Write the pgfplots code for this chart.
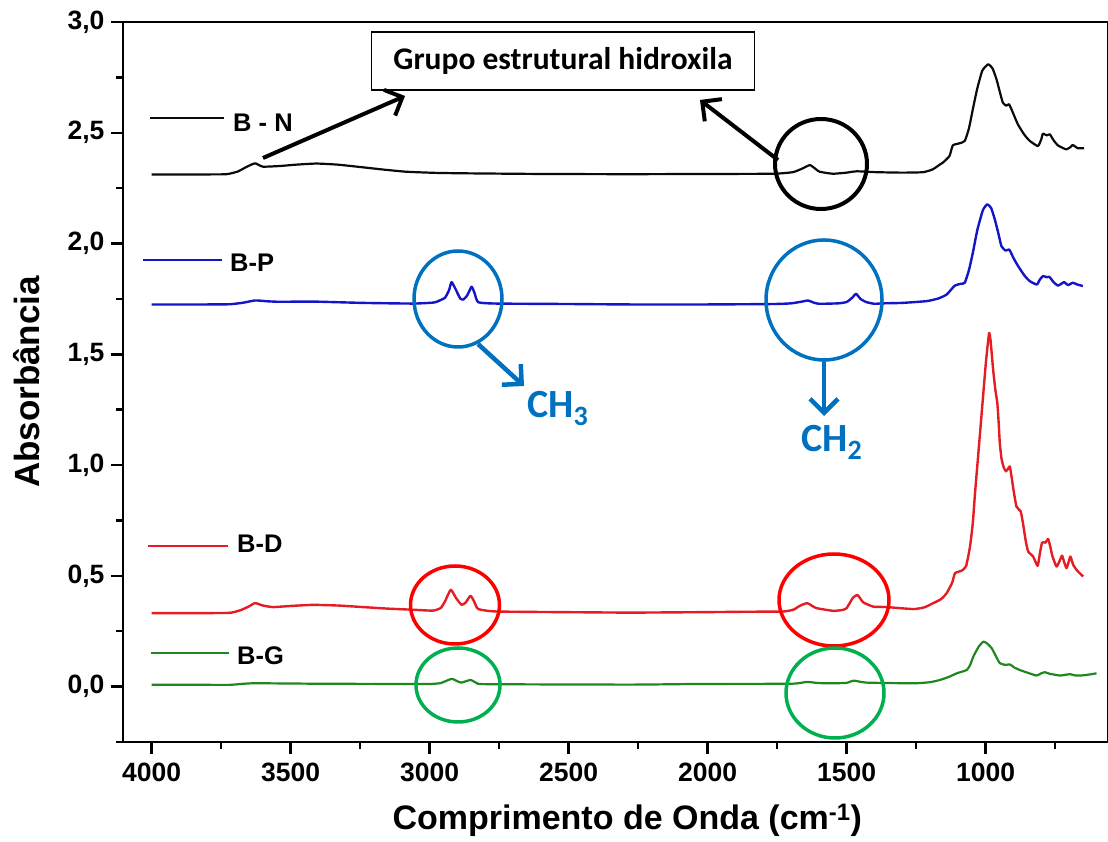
\documentclass[border=0pt]{standalone}
\usepackage{pgfplots}
\pgfplotsset{compat=1.18}
\usepackage{fontspec}
\setmainfont{Liberation Sans}
\newfontfamily\calib{Carlito}
\usetikzlibrary{arrows.meta}

\definecolor{cN}{RGB}{10,10,10}
\definecolor{cP}{RGB}{20,20,200}
\definecolor{cD}{RGB}{228,28,36}
\definecolor{cG}{RGB}{30,135,30}
\definecolor{oblue}{RGB}{0,112,192}
\definecolor{ored}{RGB}{255,0,0}
\definecolor{ogreen}{RGB}{0,176,80}

\pgfplotstableread{
x y
4000 2.312
3800 2.312
3730 2.313
3690 2.325
3660 2.345
3628 2.362
3600 2.347
3538 2.350
3480 2.356
3407 2.361
3330 2.356
3240 2.344
3160 2.333
3083 2.324
2980 2.319
2880 2.317
2600 2.314
2279 2.313
2000 2.314
1765 2.315
1694 2.322
1660 2.338
1632 2.354
1610 2.335
1597 2.324
1550 2.315
1500 2.320
1464 2.326
1392 2.322
1300 2.320
1225 2.322
1190 2.335
1164 2.357
1154 2.365
1130 2.395
1118 2.443
1095 2.452
1075 2.463
1060 2.520
1046 2.606
1030 2.700
1012 2.780
991 2.809
975 2.790
961 2.742
948 2.680
938 2.636
926 2.622
916 2.629
905 2.600
884 2.538
860 2.490
841 2.463
812 2.440
800 2.470
794 2.496
780 2.488
769 2.493
755 2.465
740 2.443
720 2.430
709 2.425
695 2.435
687 2.445
678 2.438
668 2.430
646 2.430
}\tabBN

\pgfplotstableread{
x y
4000 1.725
3800 1.725
3718 1.726
3670 1.733
3628 1.743
3580 1.739
3538 1.737
3420 1.738
3240 1.732
3060 1.729
2990 1.733
2975 1.737
2945 1.755
2930 1.790
2921 1.826
2905 1.790
2890 1.752
2879 1.747
2865 1.765
2849 1.805
2838 1.775
2825 1.735
2759 1.729
2500 1.727
2279 1.725
2000 1.725
1760 1.727
1700 1.730
1660 1.738
1639 1.743
1620 1.734
1600 1.728
1530 1.730
1500 1.736
1480 1.755
1466 1.773
1450 1.750
1430 1.736
1400 1.728
1370 1.730
1300 1.732
1212 1.740
1170 1.752
1140 1.770
1111 1.810
1090 1.818
1075 1.823
1060 1.880
1046 1.958
1030 2.060
1010 2.150
994 2.177
980 2.160
967 2.109
955 2.050
943 1.988
928 1.968
915 1.973
900 1.935
883 1.898
860 1.855
841 1.830
816 1.815
806 1.835
794 1.853
780 1.848
771 1.850
755 1.825
740 1.810
728 1.818
718 1.826
710 1.818
703 1.812
695 1.818
686 1.823
670 1.815
650 1.808
}\tabBP

\pgfplotstableread{
x y
4000 0.332
3800 0.332
3718 0.333
3680 0.345
3650 0.362
3628 0.377
3600 0.366
3563 0.359
3500 0.364
3420 0.369
3330 0.366
3240 0.359
3150 0.352
3060 0.347
2988 0.343
2960 0.355
2945 0.384
2924 0.437
2905 0.400
2885 0.369
2870 0.380
2853 0.410
2840 0.385
2825 0.350
2759 0.339
2500 0.336
2279 0.334
2027 0.336
1850 0.338
1728 0.339
1690 0.348
1668 0.365
1642 0.377
1625 0.365
1608 0.354
1548 0.342
1515 0.346
1500 0.354
1478 0.400
1462 0.414
1452 0.400
1440 0.380
1404 0.361
1356 0.359
1260 0.350
1220 0.358
1188 0.377
1160 0.395
1140 0.422
1120 0.470
1110 0.512
1085 0.524
1070 0.545
1056 0.633
1046 0.740
1038 0.875
1026 1.055
1014 1.237
999 1.463
991 1.560
987 1.597
982 1.560
973 1.431
965 1.340
958 1.281
953 1.190
949 1.100
943 1.030
935 0.990
927 0.972
920 0.982
913 0.994
907 0.950
900 0.890
889 0.813
874 0.791
866 0.740
856 0.660
847 0.610
829 0.587
813 0.545
805 0.600
797 0.650
785 0.650
775 0.666
767 0.630
760 0.590
745 0.542
733 0.570
725 0.591
717 0.560
709 0.535
702 0.560
695 0.587
685 0.550
673 0.527
660 0.510
649 0.497
}\tabBD

\pgfplotstableread{
x y
4000 0.008
3800 0.008
3718 0.008
3636 0.015
3400 0.013
3119 0.012
2999 0.012
2960 0.016
2921 0.035
2900 0.024
2885 0.018
2853 0.030
2830 0.016
2795 0.011
2279 0.009
2027 0.012
1700 0.013
1644 0.021
1600 0.016
1549 0.015
1500 0.017
1474 0.027
1428 0.018
1260 0.015
1200 0.020
1164 0.030
1130 0.045
1104 0.060
1068 0.075
1055 0.100
1044 0.136
1025 0.180
1008 0.203
995 0.195
978 0.173
960 0.130
949 0.106
930 0.098
913 0.100
895 0.085
877 0.075
850 0.063
817 0.050
800 0.060
787 0.065
770 0.058
733 0.050
715 0.053
697 0.056
675 0.050
649 0.051
625 0.055
601 0.060
}\tabBG

\begin{document}
\begin{tikzpicture}
\begin{axis}[
  at={(0pt,0pt)}, anchor=south west,
  scale only axis,
  width=985.5pt, height=720pt,
  x dir=reverse,
  xmin=558, xmax=4103,
  ymin=-0.25, ymax=3.0,
  xtick={1000,1500,...,4000},
  minor xtick={750,1250,...,3750},
  ytick={0,0.5,...,3.0},
  minor ytick={-0.25,0.25,...,2.75},
  tick align=outside,
  xtick pos=bottom, ytick pos=left,
  major tick length=12pt, minor tick length=7pt,
  every tick/.style={line width=2.5pt, black},
  axis line style={line width=2.5pt},
  /pgf/number format/assume math mode=true,
  tick label style={font=\fontsize{26.5}{31}\selectfont\bfseries},
  xticklabel style={yshift=-5pt, /pgf/number format/1000 sep={}},
  yticklabel style={xshift=-3pt, /pgf/number format/.cd, fixed, fixed zerofill, precision=1, use comma},
  xlabel={Comprimento de Onda (cm\textsuperscript{-1})},
  ylabel={Absorbância},
  xlabel style={font=\fontsize{34}{40}\selectfont\bfseries, at={(axis description cs:0.5117,-0.1222)}, anchor=base},
  ylabel style={font=\fontsize{35}{42}\selectfont\bfseries, at={(axis description cs:-0.0976,0.5)}, anchor=center},
  clip=false,
  line join=round,
]
\addplot[cN, line width=2.2pt, smooth, tension=0.3] table {\tabBN};
\addplot[cP, line width=2.4pt, smooth, tension=0.3] table {\tabBP};
\addplot[cD, line width=2.4pt, smooth, tension=0.3] table {\tabBD};
\addplot[cG, line width=2.2pt, smooth, tension=0.3] table {\tabBG};
\end{axis}

% annotations, in image pixel units (origin top-left)
\begin{scope}[x=1pt, y=-1pt, shift={(-123pt,742pt)}]
  % series keys
  \draw[cN, line width=2.5pt] (150,118) -- (224,118);
  \node[anchor=base west, inner sep=0pt, font=\fontsize{25.5}{30}\selectfont\bfseries] at (233,131.5) {B - N};
  \draw[cP, line width=2.5pt] (143,260) -- (222,260);
  \node[anchor=base west, inner sep=0pt, font=\fontsize{25.5}{30}\selectfont\bfseries] at (230,271.5) {B-P};
  \draw[cD, line width=2.5pt] (148,546) -- (228,546);
  \node[anchor=base west, inner sep=0pt, font=\fontsize{25.5}{30}\selectfont\bfseries] at (237,552.5) {B-D};
  \draw[cG, line width=2.5pt] (151,653) -- (229,653);
  \node[anchor=base west, inner sep=0pt, font=\fontsize{25.5}{30}\selectfont\bfseries] at (237,665) {B-G};

  % hydroxyl callout
  \node[draw, line width=1.5pt, fill=white, minimum width=383pt, minimum height=58pt, inner sep=0pt,
        font=\calib\bfseries\fontsize{31.5}{37}\selectfont] at (563,61) {Grupo estrutural hidroxila};
  \draw[line width=4pt, -{Straight Barb[length=14pt, width=28pt]}] (263,158) -- (405,96);
  \draw[line width=4pt, -{Straight Barb[length=14pt, width=28pt]}] (778,160) -- (700,100);
  \draw[line width=4pt] (821,164) ellipse [x radius=46, y radius=45];

  % methyl / methylene highlights
  \draw[oblue, line width=3.5pt] (458,299) ellipse [x radius=44, y radius=48];
  \draw[oblue, line width=3.5pt] (824,300) ellipse [x radius=58, y radius=60];
  \draw[oblue, line width=4.5pt, -{Straight Barb[length=14pt, width=28pt]}] (478,344) -- (524,386);
  \draw[oblue, line width=4.5pt, -{Straight Barb[length=14pt, width=28pt]}] (824,361) -- (824,416);
  \node[anchor=base west, inner sep=0pt, text=oblue, font=\calib\bfseries\fontsize{40}{46}\selectfont]
    at (527,418) {CH\raisebox{-8pt}{\fontsize{28}{32}\selectfont 3}};
  \node[anchor=base west, inner sep=0pt, text=oblue, font=\calib\bfseries\fontsize{40}{46}\selectfont]
    at (801,452) {CH\raisebox{-8pt}{\fontsize{28}{32}\selectfont 2}};

  \draw[ored, line width=3.5pt] (455,605) ellipse [x radius=44.5, y radius=39];
  \draw[ored, line width=3.5pt] (834,600) ellipse [x radius=55, y radius=46];
  \draw[ogreen, line width=3.5pt] (458,685) ellipse [x radius=42, y radius=37];
  \draw[ogreen, line width=3.5pt] (835,693) ellipse [x radius=49, y radius=45];

  \pgfresetboundingbox
  \path[use as bounding box] (0,0) rectangle (1108,842);
\end{scope}
\end{tikzpicture}
\end{document}
